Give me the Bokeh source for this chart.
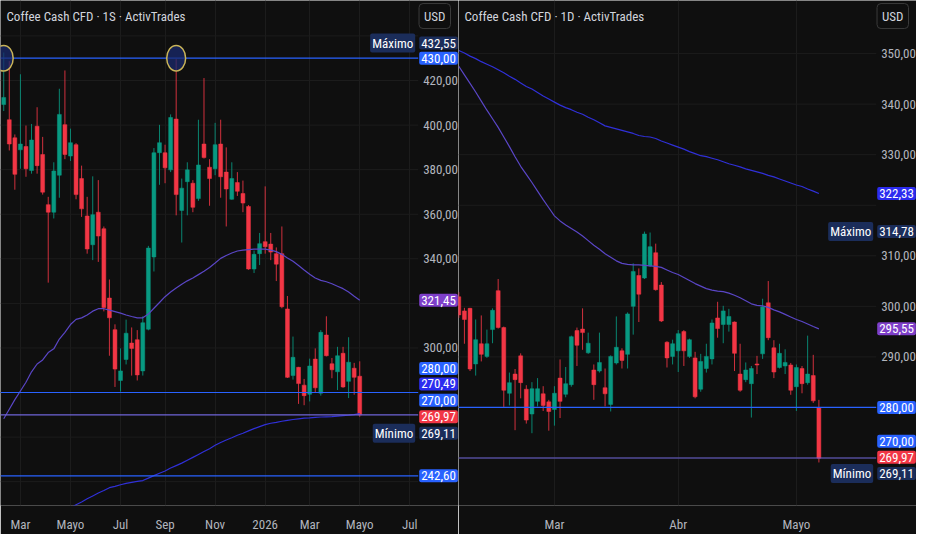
import numpy as np
import pandas as pd
from bokeh.plotting import figure
from bokeh.models import Range1d, FixedTicker, Label
from bokeh.layouts import row
from bokeh.core.properties import value
from bokeh.embed import file_html
from bokeh.resources import INLINE

# ------------------------------------------------------------------ data
# weekly panel (1S)
w_title = "Coffee Cash CFD · 1S · ActivTrades"
w_first_week = "2025-02-10"
w_open = [409.2, 402.4, 394.3, 388.9, 390.4, 379.6, 399.5, 386.8, 364.3, 360.9,
          377.5, 400.2, 386.1, 391.2, 376.0, 359.2, 346.3, 360.9, 353.5, 322.4,
          308.2, 285.4, 294.8, 302.2, 303.7, 289.7, 308.4, 340.8, 387.6, 387.6,
          379.9, 402.7, 361.7, 374.6, 373.9, 367.0, 391.5, 381.1, 380.4, 391.5,
          378.9, 366.7, 374.2, 369.3, 363.5, 335.4, 342.3, 347.7, 346.6, 342.3,
          342.3, 317.5, 287.6, 291.3, 283.3, 279.2, 295.0, 279.7, 305.8, 292.9,
          289.3, 297.6, 285.0, 290.9, 287.3]
w_high = [432.55, 428.7, 395.8, 422.8, 399.8, 400.5, 408.0, 394.7, 367.8, 383.3,
          416.3, 424.5, 398.4, 391.9, 381.8, 367.8, 377.0, 375.3, 354.5, 330.7,
          310.6, 299.8, 312.7, 309.2, 308.0, 314.2, 345.8, 389.7, 400.1, 391.2,
          404.8, 429.6, 376.0, 383.3, 375.3, 402.4, 421.1, 384.7, 401.0, 402.4,
          390.0, 383.3, 378.9, 375.1, 364.1, 343.7, 351.6, 372.5, 351.6, 345.1,
          354.5, 323.3, 305.1, 291.5, 286.1, 295.2, 299.8, 308.0, 314.2, 295.5,
          300.5, 300.5, 304.8, 293.3, 294.0]
w_low = [406.3, 388.6, 371.0, 380.4, 376.8, 378.2, 378.2, 368.8, 329.3, 358.1,
         367.4, 384.7, 383.9, 366.7, 358.8, 342.3, 339.4, 338.6, 316.4, 296.5,
         282.5, 280.4, 292.6, 287.6, 285.4, 287.6, 307.9, 334.3, 373.2, 373.9,
         378.9, 359.5, 347.3, 359.5, 360.9, 366.0, 385.0, 363.8, 377.5, 367.4,
         354.5, 366.5, 368.2, 360.9, 335.1, 333.6, 337.2, 342.3, 339.4, 330.0,
         317.8, 286.5, 285.8, 274.9, 274.3, 276.0, 280.1, 278.6, 296.2, 286.4,
         281.1, 282.1, 277.5, 279.0, 269.11]
w_close = [412.4, 391.5, 377.9, 391.5, 380.4, 393.3, 381.8, 369.9, 360.9, 379.4,
           404.8, 386.8, 392.1, 368.8, 362.4, 344.4, 359.8, 350.2, 318.1, 313.5,
           290.5, 289.7, 306.6, 299.8, 287.9, 311.3, 344.8, 387.6, 392.1, 380.8,
           403.4, 368.8, 371.7, 379.9, 363.1, 382.1, 385.4, 376.0, 391.2, 376.8,
           371.3, 376.0, 370.3, 365.0, 335.4, 342.0, 346.8, 345.4, 343.0, 337.6,
           318.5, 286.8, 295.8, 284.0, 278.6, 291.9, 282.1, 307.0, 296.5, 290.2,
           296.5, 282.5, 293.6, 286.8, 269.97]
w_ma_fast = [268.2, 272.5, 276.8, 280.7, 284.6, 289.3, 292.8, 294.6, 297.9, 299.6,
             304.0, 307.0, 310.5, 312.8, 313.5, 314.8, 316.5, 317.6, 317.6, 317.0,
             316.3, 315.6, 314.8, 314.1, 313.5, 313.5, 315.2, 317.8, 320.4, 323.0,
             325.1, 326.9, 328.6, 330.1, 331.4, 332.9, 334.4, 336.1, 338.1, 340.2,
             341.5, 342.6, 343.5, 343.9, 344.1, 344.3, 344.3, 344.3, 343.9, 343.2,
             342.0, 340.4, 338.9, 337.0, 335.0, 333.1, 331.4, 330.3, 329.7, 328.8,
             327.7, 326.6, 325.1, 323.2, 321.45]
# slow average: values from bar 12 on (earlier ones lie below the chart)
w_ma_slow = [228.2, 229.6, 230.9, 232.3, 233.6, 234.9, 236.0, 237.3, 237.9, 238.6,
             239.2, 239.7, 240.1, 240.5, 241.6, 242.7, 243.8, 244.8, 246.1, 247.2,
             248.3, 249.6, 250.9, 252.2, 253.5, 254.8, 256.3, 257.6, 258.7, 259.7,
             260.8, 261.7, 262.8, 263.8, 264.7, 265.6, 266.2, 266.6, 267.1, 267.5,
             267.9, 268.2, 268.5, 268.6, 268.8, 269.0, 269.1, 269.2, 269.4, 269.6,
             269.8, 270.1, 270.49]
w_levels = [430.00, 280.00, 270.00, 242.60]
w_marked_bars = [0, 31]
w_marked_level = 430.00
w_tick_months = ["2025-03", "2025-05", "2025-07", "2025-09", "2025-11",
                 "2026-01", "2026-03", "2026-05", "2026-07"]
w_tick_labels = ["Mar", "Mayo", "Jul", "Sep", "Nov", "2026", "Mar", "Mayo", "Jul"]
w_price_ticks = [240, 260, 280, 300, 320, 340, 360, 380, 400, 420, 440]
w_price_hidden = [240, 260, 280, 320, 440]

# daily panel (1D)
d_title = "Coffee Cash CFD · 1D · ActivTrades"
d_first_day = "2026-02-04"
d_holidays = ["2026-02-16", "2026-04-03"]
d_open = [301.9, 299.1, 299.6, 288.6, 292.6, 290.1, 295.4, 303.1, 295.8, 282.8,
          286.6, 290.2, 283.6, 278.7, 281.2, 282.7, 281.1, 279.6, 285.8, 282.6,
          284.5, 295.2, 295.5, 290.8, 287.4, 287.2, 283.9, 280.6, 288.8, 291.2,
          290.5, 300.0, 306.1, 305.6, 308.0, 310.6, 304.2, 292.9, 290.1, 291.2,
          295.0, 290.1, 289.8, 283.6, 287.7, 289.6, 297.7, 296.4, 296.4, 296.9,
          286.6, 285.5, 284.7, 288.6, 290.6, 300.7, 291.8, 287.9, 288.2, 288.4,
          284.1, 287.7, 284.9, 286.3, 279.9]
d_high = [302.8, 299.7, 299.7, 297.4, 298.2, 295.4, 299.6, 305.4, 296.0, 286.9,
          287.6, 290.7, 284.4, 285.0, 285.8, 284.2, 281.5, 284.2, 289.5, 288.0,
          294.2, 295.8, 299.6, 294.8, 288.5, 294.8, 287.7, 290.3, 298.0, 291.7,
          298.8, 308.5, 307.5, 314.78, 314.6, 312.4, 304.8, 293.1, 293.4, 295.3,
          295.3, 293.6, 291.0, 290.6, 292.6, 297.4, 300.9, 300.1, 299.5, 297.0,
          292.6, 288.9, 288.2, 290.2, 301.5, 305.0, 293.3, 292.6, 291.5, 288.8,
          288.5, 288.2, 294.2, 290.4, 281.5]
d_low = [297.7, 292.6, 287.2, 286.3, 289.1, 289.8, 292.7, 295.6, 280.1, 280.4,
         275.5, 281.8, 276.8, 274.9, 280.2, 279.3, 275.4, 276.4, 277.9, 282.0,
         284.1, 288.2, 291.4, 290.6, 281.5, 286.9, 280.2, 279.2, 288.5, 287.7,
         287.7, 294.4, 296.9, 305.4, 307.8, 303.1, 296.9, 287.9, 288.5, 287.0,
         288.2, 289.8, 281.8, 283.1, 286.9, 288.5, 293.8, 292.7, 295.0, 287.2,
         283.1, 285.0, 278.0, 286.6, 289.6, 293.3, 285.8, 287.7, 286.6, 282.5,
         279.3, 282.8, 284.5, 280.9, 269.11]
d_close = [298.3, 297.4, 287.6, 293.4, 290.5, 292.6, 299.2, 295.8, 283.4, 284.9,
           285.5, 284.9, 277.5, 283.7, 283.7, 280.4, 279.2, 282.8, 281.2, 284.7,
           294.0, 292.3, 294.8, 292.7, 284.5, 288.9, 282.7, 290.1, 291.9, 289.3,
           298.5, 306.9, 302.4, 314.3, 311.8, 303.3, 297.1, 289.8, 292.6, 294.6,
           291.2, 293.4, 282.1, 289.1, 290.1, 296.7, 295.6, 299.1, 298.0, 290.7,
           283.4, 287.4, 287.7, 288.4, 299.9, 293.8, 287.0, 290.7, 288.9, 283.4,
           287.9, 284.7, 286.6, 281.3, 269.97]
d_ma_fast = [347.5, 345.8, 344.1, 342.4, 340.6, 338.8, 337.1, 335.4, 333.5, 331.6,
             329.6, 327.7, 326.1, 324.5, 322.8, 321.1, 319.5, 317.9, 316.9, 316.1,
             315.4, 314.7, 313.9, 313.0, 312.1, 311.3, 310.4, 309.7, 309.0, 308.5,
             308.3, 308.2, 308.2, 308.1, 308.0, 307.9, 307.7, 307.2, 306.7, 306.3,
             305.7, 305.1, 304.5, 304.0, 303.5, 303.2, 303.0, 302.9, 302.6, 302.2,
             301.7, 301.1, 300.5, 300.2, 300.1, 299.8, 299.3, 298.9, 298.4, 297.9,
             297.4, 297.0, 296.5, 296.0, 295.55]
d_ma_slow = [350.6, 350.1, 349.5, 349.0, 348.4, 347.9, 347.4, 346.8, 346.2, 345.5,
             344.9, 344.2, 343.5, 343.0, 342.3, 341.6, 341.0, 340.4, 339.8, 339.3,
             338.9, 338.4, 338.0, 337.4, 336.9, 336.3, 335.7, 335.4, 335.1, 334.8,
             334.5, 334.2, 333.8, 333.6, 333.5, 333.2, 332.7, 332.3, 331.9, 331.5,
             331.1, 330.6, 330.2, 329.8, 329.6, 329.3, 329.0, 328.6, 328.2, 327.9,
             327.6, 327.2, 326.9, 326.6, 326.3, 325.9, 325.6, 325.2, 324.8, 324.4,
             324.0, 323.7, 323.2, 322.8, 322.33]
d_levels = [280.00, 270.00]
d_tick_months = ["2026-03", "2026-04", "2026-05"]
d_tick_labels = ["Mar", "Abr", "Mayo"]
d_price_ticks = [270, 280, 290, 300, 310, 320, 330, 340, 350]
d_price_hidden = [270, 280, 320]

# ------------------------------------------------------------------ style
FONT = "Liberation Sans Narrow, Roboto Condensed, Roboto"
BG = "#0f0f0f"
GRID = "#1c1c1c"
TXT = "#b2b5be"
UP = "#089981"
DOWN = "#f23645"
BLUE = "#2962ff"
PURPLE = "#7e3fc9"
INDIGO = "#2c2cf0"
NAVY = "#1b2d5a"
MA_FAST_LINE = "#5a46c6"
MA_SLOW_LINE = "#3030d8"
LEVEL_COLORS = {270.00: "#6f64d8"}
W, H = 458, 534
YS = H / 550.0  # pixel scale against the reference
SCALE_PX = 41   # width of the price-scale column (reference px)
FS = "13px"


def fmt(v):
    return f"{v:.2f}".replace(".", ",")


def month_ticks(dates, months):
    pos = []
    for m in months:
        start = pd.Timestamp(m + "-01")
        pos.append(int(np.argmax(dates >= start)))
    return pos


def panel(title, o, h, l, c, x0, bar_px, chart_px, yr, xt, xl, pt, ph,
          ma_fast, ma_slow, slow_start, levels, shifts, marks=None):
    x_edge = x0 + chart_px / bar_px              # right edge of the chart area
    x_end = x0 + (chart_px + SCALE_PX) / bar_px  # right edge incl. price scale
    p = figure(width=W, height=H, x_range=Range1d(x0, x_end),
               y_range=Range1d(*yr), output_backend="svg",
               toolbar_location=None, background_fill_color=BG,
               border_fill_color=BG, outline_line_color=None,
               min_border_left=0, min_border_top=0, min_border_right=0,
               min_border_bottom=24)
    p.yaxis.visible = False
    p.xaxis.ticker = FixedTicker(ticks=xt)
    p.xaxis.major_label_overrides = {t: s for t, s in zip(xt, xl)}
    ax = p.xaxis[0]
    ax.axis_line_color = None
    ax.major_tick_line_color = None
    ax.minor_tick_line_color = None
    ax.major_label_text_color = TXT
    ax.major_label_text_font = FONT
    ax.major_label_text_font_size = FS
    ax.major_label_standoff = 5
    p.xgrid.grid_line_color = GRID
    p.ygrid.grid_line_color = None

    # horizontal grid, limited to the chart area
    p.segment(x0=[x0] * len(pt), x1=[x_edge] * len(pt), y0=pt, y1=pt,
              line_color=GRID, line_width=1)

    idx = np.arange(len(o))
    o = np.array(o); c = np.array(c)
    col = np.where(c >= o, UP, DOWN)
    p.segment(x0=idx, y0=l, x1=idx, y1=h, color=col, line_width=1,
              line_alpha=0.85)
    p.vbar(x=idx, width=0.7, top=np.maximum(o, c), bottom=np.minimum(o, c),
           fill_color=col, line_color=col, line_width=0.5)

    p.line(idx, ma_fast, line_color=MA_FAST_LINE, line_width=1.2)
    p.line(idx[slow_start:], ma_slow, line_color=MA_SLOW_LINE, line_width=1.2)

    p.segment(x0=[x0] * len(levels), x1=[x_edge] * len(levels), y0=levels,
              y1=levels, line_color=[LEVEL_COLORS.get(v, BLUE) for v in levels],
              line_width=1.2)

    if marks is not None:
        bars, lev = marks
        p.ellipse(x=bars, y=[lev] * len(bars), width=3.4, height=11.5,
                  fill_color="#1a2a6c", fill_alpha=0.75,
                  line_color="#c9b458", line_width=1.5)

    # price-scale tick labels
    shown = [t for t in pt if t not in ph]
    p.text(x=[x_edge] * len(shown), y=shown, text=[fmt(t) for t in shown],
           x_offset=5, text_align="left", text_baseline="middle",
           text_color=TXT, text_font=value(FONT), text_font_size=FS)

    # title and currency button
    p.add_layout(Label(x=x0, y=yr[1], x_offset=6, y_offset=-16 * YS,
                       text=title, text_baseline="middle", text_align="left",
                       text_color="#d1d4dc", text_font=FONT,
                       text_font_size=FS))
    p.add_layout(Label(x=x_end, y=yr[1], x_offset=-8, y_offset=-16 * YS,
                       text="USD", text_baseline="middle", text_align="right",
                       text_color="#d1d4dc", text_font=FONT,
                       text_font_size=FS, background_fill_color=BG,
                       border_line_color="#3a3a3a", border_radius=4,
                       padding=5))

    last = len(c) - 1
    tags = [
        ("max", max(h), NAVY, "Máximo"),
        ("min", min(l), NAVY, "Mínimo"),
        ("fast", ma_fast[-1], PURPLE, None),
        ("slow", ma_slow[-1], INDIGO, None),
    ] + [(f"lv{lv}", lv, BLUE, None) for lv in levels] + [
        ("close", c[last], DOWN if c[last] < o[last] else UP, None)]
    for key, v, color, name in tags:
        sh = shifts.get(key, 0) * YS
        p.add_layout(Label(x=x_edge, y=v, x_offset=1, y_offset=sh, text=fmt(v),
                           text_baseline="middle", text_align="left",
                           text_color="#ffffff", text_font=FONT,
                           text_font_size=FS, background_fill_color=color,
                           padding=2, border_radius=2))
        if name:
            p.add_layout(Label(x=x_edge, y=v, x_offset=-3, y_offset=sh,
                               text=name, text_baseline="middle",
                               text_align="right", text_color="#ffffff",
                               text_font=FONT, text_font_size=FS,
                               background_fill_color=NAVY,
                               padding=2, border_radius=2))
    return p


w_dates = pd.date_range(w_first_week, periods=len(w_open) + 20, freq="7D")
w_xt = month_ticks(w_dates, w_tick_months)
d_dates = pd.bdate_range(d_first_day, periods=len(d_open) + 20, freq="C",
                         holidays=d_holidays)
d_xt = month_ticks(d_dates, d_tick_months)

w_shifts = {"max": 9.8, "lv280.0": 24.8, "slow": 30.6, "lv270.0": 15.0,
            "close": -2.0, "min": -17.0}
d_shifts = {"lv270.0": 17.3, "min": -11.4, "close": 0.8}

p1 = panel(w_title, w_open, w_high, w_low, w_close, -0.58, 5.66, 425,
           (229.3, 455.9), w_xt, w_tick_labels, w_price_ticks, w_price_hidden,
           w_ma_fast, w_ma_slow, len(w_open) - len(w_ma_slow), w_levels,
           w_shifts, marks=(w_marked_bars, w_marked_level))
p2 = panel(d_title, d_open, d_high, d_low, d_close, -0.05, 5.725, 425,
           (260.6, 360.5), d_xt, d_tick_labels, d_price_ticks, d_price_hidden,
           d_ma_fast, d_ma_slow, 0, d_levels, d_shifts)

layout = row(p1, p2, spacing=0)
open("out.html", "w").write(file_html(layout, INLINE))
